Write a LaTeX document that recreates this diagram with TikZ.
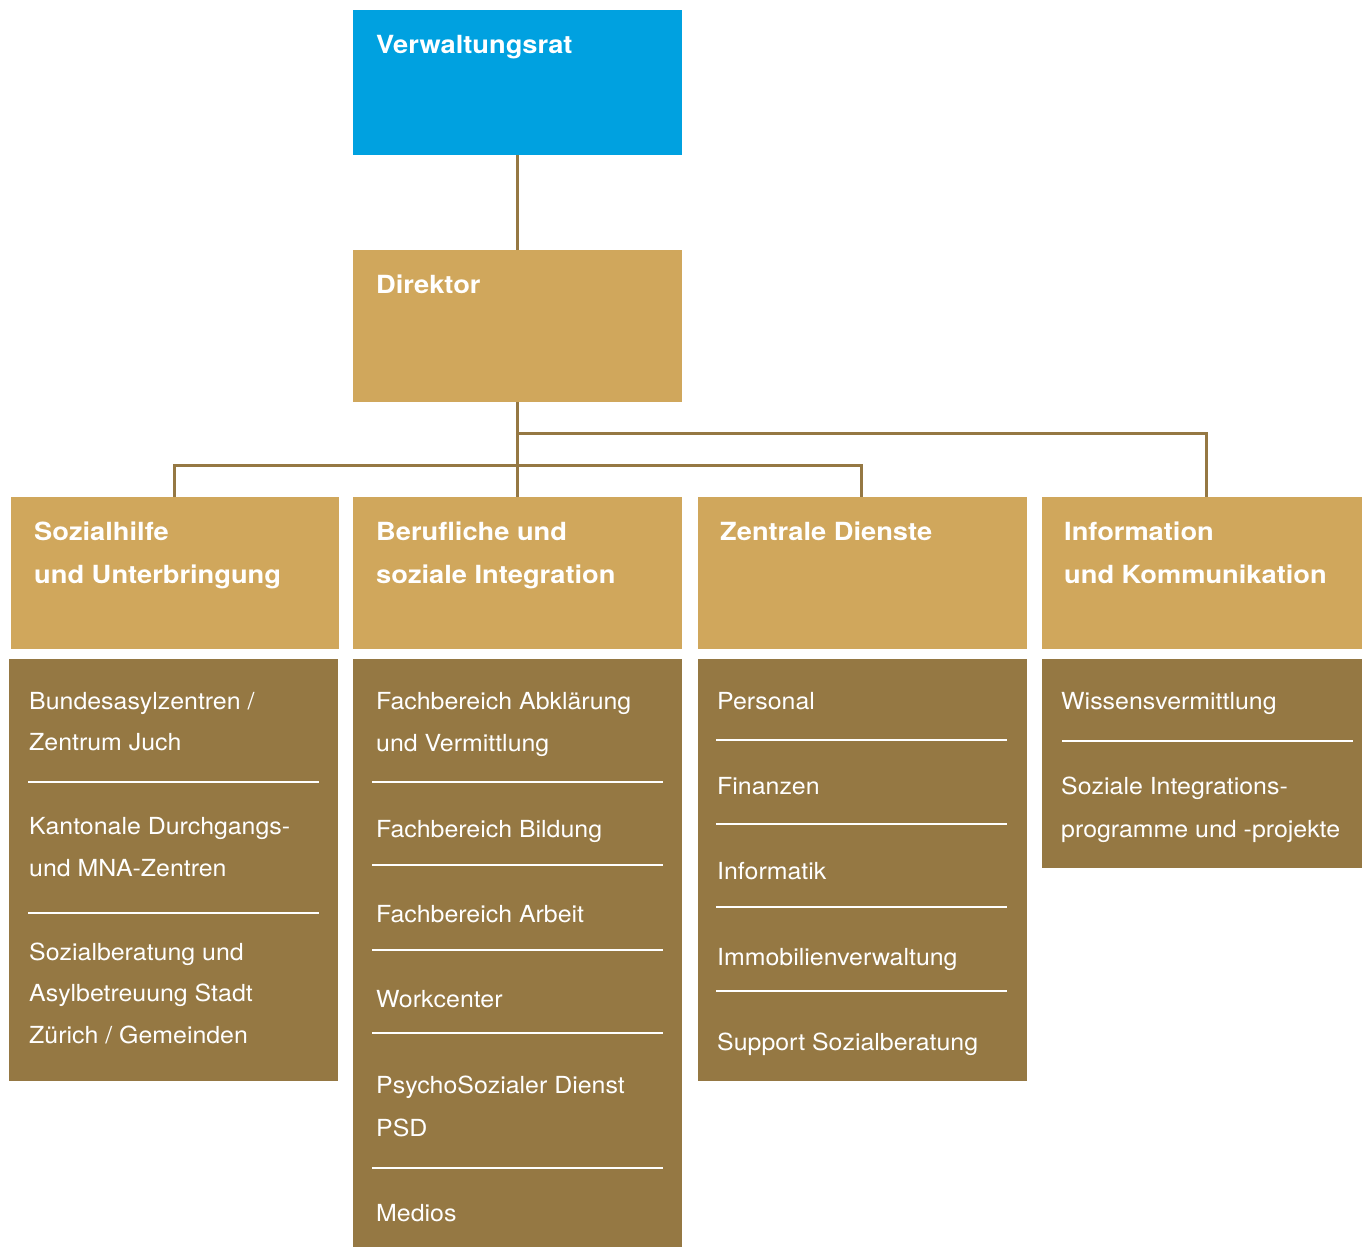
\documentclass[tikz,border=0pt]{standalone}
\usepackage{fontspec}
\setmainfont{TeX Gyre Heros}
\newfontfamily\headfont[FakeStretch=1.09]{TeX Gyre Heros}
\newfontfamily\bodyfont[FakeStretch=1.06]{TeX Gyre Heros}
\definecolor{vblue}{HTML}{00A1E0}
\definecolor{gold}{HTML}{D0A75C}
\definecolor{dark}{HTML}{957843}
\begin{document}
\begin{tikzpicture}[x=1pt,y=-1pt,
  box/.style={anchor=north west,inner sep=0pt,outer sep=0pt},
  conn/.style={draw=dark,line width=3pt},
  head/.style={anchor=base west,inner sep=0pt,text=white,font=\headfont\fontsize{25}{30}\selectfont\bfseries},
  item/.style={anchor=base west,inner sep=0pt,text=white,font=\bodyfont\fontsize{23.5}{28}\selectfont},
  sep/.style={draw=white,line width=2.2pt}]
\useasboundingbox (0,0) rectangle (1362,1247);
% boxes
\node[box,fill=vblue,minimum width=329pt,minimum height=145pt] (vr) at (353,10) {};
\node[box,fill=gold,minimum width=329pt,minimum height=152pt] (dir) at (353,250) {};
\node[box,fill=gold,minimum width=328pt,minimum height=152pt] (h1) at (11,497) {};
\node[box,fill=gold,minimum width=329pt,minimum height=152pt] (h2) at (353,497) {};
\node[box,fill=gold,minimum width=329pt,minimum height=152pt] (h3) at (698,497) {};
\node[box,fill=gold,minimum width=320pt,minimum height=152pt] (h4) at (1042,497) {};
\node[box,fill=dark,minimum width=329pt,minimum height=422pt] (d1) at (9,659) {};
\node[box,fill=dark,minimum width=329pt,minimum height=588pt] (d2) at (353,659) {};
\node[box,fill=dark,minimum width=329pt,minimum height=422pt] (d3) at (698,659) {};
\node[box,fill=dark,minimum width=320pt,minimum height=209pt] (d4) at (1042,659) {};
% connectors
\coordinate (j1) at (517,433);
\coordinate (j2) at (517,465);
\draw[conn] (vr.south) -- (dir.north);
\draw[conn] (dir.south) -- (h2.north);
\draw[conn] (j1) -| ([xshift=4pt]h4.north);
\draw[conn] ([xshift=-1pt]h1.north) |- (j2) -| ([xshift=-1.5pt]h3.north);
% titles
\node[head] (tvr) at (376,53) {Verwaltungsrat};
\node[head] (tdir) at (376,293) {Direktor};
\node[head] (t1a) at (34,540) {Sozialhilfe};
\node[head] (t1b) at (34,583) {und Unterbringung};
\node[head] (t2a) at (376,540) {Berufliche und};
\node[head] (t2b) at (376,583) {soziale Integration};
\node[head] (t3a) at (720,540) {Zentrale Dienste};
\node[head] (t4a) at (1064,540) {Information};
\node[head] (t4b) at (1064,583) {und Kommunikation};
% column 1
\node[item] (a1) at (29,709) {Bundesasylzentren /};
\node[item] (a2) at (29,750) {Zentrum Juch};
\node[item] (a3) at (29,834) {Kantonale Durchgangs-};
\node[item] (a4) at (29,876) {und MNA-Zentren};
\node[item] (a5) at (29,960) {Sozialberatung und};
\node[item] (a6) at (29,1001) {Asylbetreuung Stadt};
\node[item] (a7) at (29,1043) {Zürich / Gemeinden};
\draw[sep] (28,782) -- (319,782);
\draw[sep] (28,913) -- (319,913);
% column 2
\node[item] (b1) at (376,709) {Fachbereich Abklärung};
\node[item] (b2) at (376,751) {und Vermittlung};
\node[item] (b3) at (376,837) {Fachbereich Bildung};
\node[item] (b4) at (376,922) {Fachbereich Arbeit};
\node[item] (b5) at (376,1007) {Workcenter};
\node[item] (b6) at (376,1093) {PsychoSozialer Dienst};
\node[item] (b7) at (376,1136) {PSD};
\node[item] (b8) at (376,1221) {Medios};
\draw[sep] (372,782) -- (663,782);
\draw[sep] (372,865) -- (663,865);
\draw[sep] (372,950) -- (663,950);
\draw[sep] (372,1033) -- (663,1033);
\draw[sep] (372,1168) -- (663,1168);
% column 3
\node[item] (c1) at (717,709) {Personal};
\node[item] (c2) at (717,794) {Finanzen};
\node[item] (c3) at (717,879) {Informatik};
\node[item] (c4) at (717,965) {Immobilienverwaltung};
\node[item] (c5) at (717,1050) {Support Sozialberatung};
\draw[sep] (716,740) -- (1007,740);
\draw[sep] (716,824) -- (1007,824);
\draw[sep] (716,907) -- (1007,907);
\draw[sep] (716,991) -- (1007,991);
% column 4
\node[item] (e1) at (1061,709) {Wissensvermittlung};
\node[item] (e2) at (1061,794) {Soziale Integrations-};
\node[item] (e3) at (1061,837) {programme und -projekte};
\draw[sep] (1062,741) -- (1353,741);
\end{tikzpicture}
\end{document}
